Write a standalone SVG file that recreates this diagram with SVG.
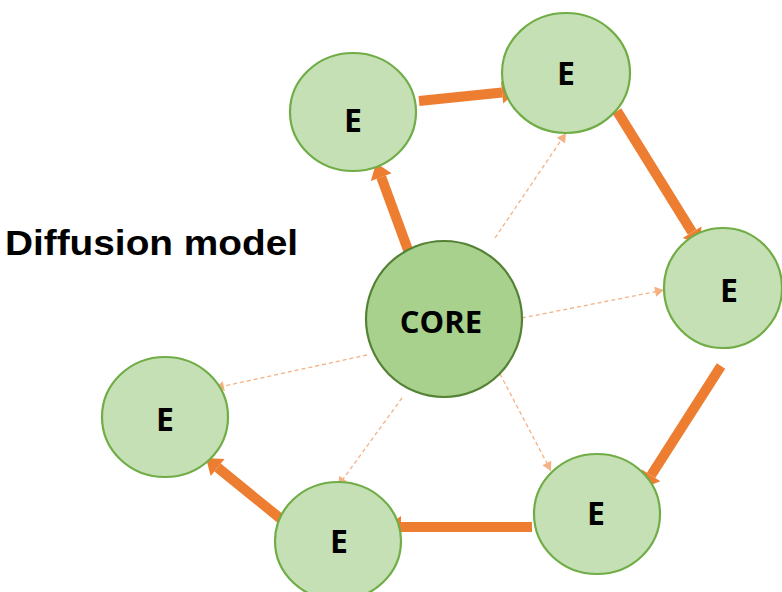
<svg xmlns="http://www.w3.org/2000/svg" width="782" height="592" viewBox="0 0 782 592">
  <style>
    .edge { fill: #C5E0B4; stroke: #70AD47; stroke-width: 2.2; }
    .core { fill: #A9D18E; stroke: #548235; stroke-width: 2.2; }
    .lbl { font-family: "Open Sans", "Liberation Sans", sans-serif; font-weight: bold; fill: #000; text-anchor: middle; }
    .flow { stroke: #ED7D31; stroke-width: 10; fill: none; marker-end: url(#headBig); }
    .spread { stroke: #F4B183; stroke-width: 1.3; stroke-dasharray: 4 3; fill: none; marker-end: url(#headSmall); }
    .title { font-family: "Liberation Sans", Arial, sans-serif; font-weight: bold; font-size: 35px; fill: #000; }
  </style>
  <defs>
    <marker id="headBig" markerUnits="userSpaceOnUse" markerWidth="16" markerHeight="24" refX="0" refY="12" orient="auto" overflow="visible">
      <path d="M0,1 L15,12 L0,23 Z" fill="#ED7D31"/>
    </marker>
    <marker id="headSmall" markerUnits="userSpaceOnUse" markerWidth="10" markerHeight="10" refX="9" refY="5" orient="auto" overflow="visible">
      <path d="M0,0 L9,5 L0,10 Z" fill="#F4B183"/>
    </marker>
  </defs>

  <rect width="782" height="592" fill="#FFFFFF"/>

  <text class="title" x="5" y="255" textLength="293" lengthAdjust="spacingAndGlyphs">Diffusion model</text>

  <!-- connectors -->
  <g id="connectors">
    <line class="spread" x1="495" y1="238" x2="566" y2="133"/>
    <line class="spread" x1="522" y1="318" x2="664" y2="290"/>
    <line class="spread" x1="367" y1="355" x2="215" y2="388"/>
    <line class="spread" x1="402" y1="398" x2="338" y2="486"/>
    <line class="spread" x1="500" y1="374" x2="551" y2="471"/>

    <line class="flow" x1="408" y1="250" x2="381.2" y2="177.1"/>
    <line class="flow" x1="419" y1="101" x2="502.1" y2="92.5"/>
    <line class="flow" x1="617" y1="111" x2="692.1" y2="232.2"/>
    <line class="flow" x1="721" y1="366" x2="651.1" y2="475.4"/>
    <line class="flow" x1="532" y1="527" x2="401" y2="527"/>
    <line class="flow" x1="281" y1="519" x2="217.6" y2="467.5"/>
  </g>

  <!-- nodes -->
  <g id="core">
    <circle class="core" cx="444" cy="319" r="78"/>
    <text class="lbl" x="441" y="333" font-size="31">CORE</text>
  </g>
  <g id="e-upper-left">
    <ellipse class="edge" cx="353" cy="112" rx="63" ry="59"/>
    <text class="lbl" x="353" y="132" font-size="32">E</text>
  </g>
  <g id="e-top">
    <ellipse class="edge" cx="566" cy="73" rx="64" ry="60"/>
    <text class="lbl" x="566" y="85" font-size="32">E</text>
  </g>
  <g id="e-right">
    <ellipse class="edge" cx="723" cy="288" rx="59" ry="60"/>
    <text class="lbl" x="729" y="302" font-size="32">E</text>
  </g>
  <g id="e-lower-right">
    <ellipse class="edge" cx="597" cy="514" rx="63" ry="60"/>
    <text class="lbl" x="596" y="525" font-size="32">E</text>
  </g>
  <g id="e-bottom">
    <ellipse class="edge" cx="338" cy="541" rx="63" ry="59"/>
    <text class="lbl" x="339" y="553" font-size="32">E</text>
  </g>
  <g id="e-left">
    <ellipse class="edge" cx="165" cy="417" rx="63" ry="60"/>
    <text class="lbl" x="165" y="431" font-size="32">E</text>
  </g>
</svg>
